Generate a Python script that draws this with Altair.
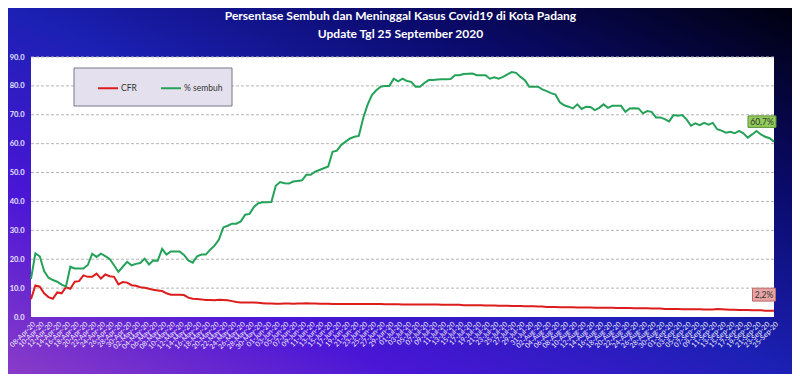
import altair as alt
import pandas as pd
import datetime as dt

# ---------------- data ----------------
start = dt.date(2020, 4, 8)
dates = [(start + dt.timedelta(days=i)).strftime("%d-%b-%y") for i in range(171)]
label_dates = dates[::2]

sembuh = [
    13.2, 22.0, 21.0, 15.9, 13.6, 12.8, 12.2, 11.2, 10.5, 17.4,
    16.8, 16.8, 16.8, 18.0, 21.9, 20.8, 21.9, 21.1, 20.1, 17.9,
    15.6, 17.4, 19.1, 17.9, 18.4, 18.7, 20.2, 18.2, 19.6, 19.5,
    23.6, 21.6, 22.7, 22.7, 22.7, 21.5, 19.6, 18.8, 21.0, 21.6,
    21.6, 23.3, 24.7, 26.8, 31.0, 31.6, 32.3, 32.3, 33.1, 35.4,
    35.7, 38.1, 39.4, 39.7, 39.7, 39.8, 45.4, 46.7, 46.3, 46.2,
    46.9, 47.1, 47.3, 49.2, 49.2, 50.3, 50.9, 51.5, 52.1, 57.2,
    57.6, 59.6, 60.7, 61.8, 62.4, 62.7, 68.8, 73.4, 76.8, 78.5,
    79.7, 80.0, 80.0, 82.5, 81.6, 82.5, 81.7, 81.4, 79.7, 79.7,
    81.0, 82.0, 82.0, 82.2, 82.3, 82.3, 82.4, 83.7, 83.7, 84.1,
    84.2, 84.3, 83.7, 83.7, 83.7, 82.5, 83.0, 82.5, 83.1, 84.0,
    84.8, 84.5, 83.1, 82.0, 79.7, 79.7, 79.7, 78.8, 78.2, 77.5,
    77.0, 74.3, 73.3, 72.8, 72.2, 73.6, 72.0, 72.8, 72.7, 71.6,
    72.4, 73.6, 72.4, 73.1, 73.1, 73.1, 71.0, 72.2, 72.3, 72.2,
    70.5, 71.3, 71.0, 69.1, 69.1, 68.5, 67.7, 69.9, 69.7, 69.9,
    68.4, 66.2, 67.0, 66.4, 67.2, 66.6, 67.2, 65.0, 64.5, 63.8,
    64.1, 63.6, 64.4, 63.6, 62.1, 63.2, 64.4, 63.2, 62.4, 61.9,
    60.7,
]

cfr = [
    6.2, 10.9, 10.5, 8.2, 6.9, 6.3, 8.5, 8.2, 10.3, 9.8,
    12.2, 12.4, 14.4, 13.9, 13.9, 15.0, 13.3, 14.7, 14.1, 13.9,
    11.3, 12.1, 11.9, 11.0, 10.8, 10.3, 10.1, 9.8, 9.4, 9.2,
    9.0, 8.2, 7.7, 7.7, 7.7, 7.6, 6.7, 6.3, 6.2, 6.1,
    5.9, 5.9, 5.8, 6.0, 5.9, 5.8, 5.5, 5.2, 5.0, 5.0,
    5.0, 5.0, 4.9, 4.8, 4.7, 4.7, 4.6, 4.6, 4.7, 4.7,
    4.6, 4.7, 4.7, 4.8, 4.7, 4.7, 4.6, 4.6, 4.6, 4.5,
    4.5, 4.5, 4.5, 4.5, 4.5, 4.5, 4.5, 4.5, 4.5, 4.5,
    4.5, 4.4, 4.4, 4.4, 4.4, 4.3, 4.3, 4.3, 4.3, 4.3,
    4.3, 4.3, 4.3, 4.3, 4.2, 4.2, 4.2, 4.2, 4.2, 4.1,
    4.1, 4.1, 4.1, 4.1, 4.0, 4.0, 4.0, 3.9, 3.9, 3.9,
    3.8, 3.8, 3.8, 3.7, 3.7, 3.7, 3.6, 3.6, 3.5, 3.5,
    3.5, 3.4, 3.4, 3.4, 3.4, 3.3, 3.3, 3.3, 3.3, 3.2,
    3.2, 3.2, 3.2, 3.2, 3.1, 3.1, 3.1, 3.1, 3.0, 3.0,
    3.0, 3.0, 2.9, 2.9, 2.9, 2.8, 2.8, 2.8, 2.8, 2.7,
    2.7, 2.7, 2.7, 2.7, 2.6, 2.6, 2.6, 2.8, 2.7, 2.6,
    2.5, 2.5, 2.4, 2.4, 2.4, 2.3, 2.3, 2.3, 2.2, 2.2,
    2.2,
]

series_names = ["CFR", "% sembuh"]
series_colors = ["#dd1c1c", "#25a259"]
grid_values = [10, 20, 30, 40, 50, 60, 70, 80, 90]
y_ticks = [0, 10, 20, 30, 40, 50, 60, 70, 80, 90]
end_labels = ["2,2%", "60,7%"]

title_lines = ["Persentase Sembuh dan Meninggal Kasus Covid19 di Kota Padang",
               "Update Tgl 25 September 2020"]

# ---------------- tables ----------------
df = pd.DataFrame({
    "date": dates * 2,
    "series": ["CFR"] * len(dates) + ["% sembuh"] * len(dates),
    "value": cfr + sembuh,
})
df_grid = pd.DataFrame({"value": grid_values})
df_one = pd.DataFrame({"a": [0]})
df_end_g = pd.DataFrame({"date": [dates[-1]], "value": [sembuh[-1]], "lab": [end_labels[1]]})
df_end_r = pd.DataFrame({"date": [dates[-1]], "value": [cfr[-1]], "lab": [end_labels[0]]})

W, H = 743, 260
PL, PT, PR, PB = 23, 49, 18, 57
FONT = "Lato"

y_scale = alt.Scale(domain=[0, 90], nice=False, zero=True)
x_scale = alt.Scale(type="point", padding=0, domain=dates)

x_axis = alt.Axis(values=label_dates, labelAngle=-45, labelFontSize=7, labelFont=FONT,
                  labelColor="#f2f0ff", labelPadding=3, ticks=False, domain=False,
                  grid=False, title=None, labelOverlap=False, labelBound=False, zindex=1)
y_axis = alt.Axis(values=y_ticks, tickCount=10, format=".1f", title=None, labelColor="#e6e4ff",
                  labelFontSize=7.5, labelFont=FONT, labelFontWeight="bold", labelPadding=7,
                  labelOverlap=False, labelBound=False, labelFlush=False, ticks=False,
                  domain=False, grid=False, zindex=1)

x_enc = alt.X("date:O", sort=dates, scale=x_scale, axis=x_axis)
y_enc = alt.Y("value:Q", scale=y_scale, axis=y_axis)

gradient = alt.LinearGradient(
    gradient="linear", x1=0, y1=1, x2=1, y2=0,
    stops=[alt.GradientStop(color="#8a3cc8", offset=0),
           alt.GradientStop(color="#4a16d6", offset=0.25),
           alt.GradientStop(color="#1c20b4", offset=0.5),
           alt.GradientStop(color="#0a0a6a", offset=0.75),
           alt.GradientStop(color="#00000e", offset=1)])

bg = alt.Chart(df_one).mark_rect(fill=gradient).encode(
    x=alt.value(-PL), x2=alt.value(W + PR), y=alt.value(-PT), y2=alt.value(H + PB))

plot_bg = alt.Chart(df_one).mark_rect(fill="white").encode(
    x=alt.value(0), x2=alt.value(W), y=alt.value(0), y2=alt.value(H))

grid = alt.Chart(df_grid).mark_rule(color="#b5b5b5", strokeWidth=1, strokeDash=[3, 2]).encode(
    y=y_enc, x=alt.value(0), x2=alt.value(W))

legend_box = alt.Chart(df_one).mark_rect(fill="#e4e0ee", stroke="#77778a", strokeWidth=1).encode(
    x=alt.value(43), x2=alt.value(201), y=alt.value(11), y2=alt.value(49))

lines = alt.Chart(df).mark_line(strokeWidth=2).encode(
    x=x_enc,
    y=y_enc,
    color=alt.Color("series:N", scale=alt.Scale(domain=series_names, range=series_colors),
                    legend=alt.Legend(orient="none", legendX=66, legendY=20, direction="horizontal",
                                      title=None, symbolType="stroke", symbolSize=400,
                                      symbolStrokeWidth=2, labelFontSize=8.5, labelFont=FONT,
                                      labelColor="#333333", columnPadding=20, labelOffset=2,
                                      zindex=1)),
    order=alt.Order("series:N"),
)

box_g = alt.Chart(df_end_g).mark_point(
    shape="M-1,-0.41H1V0.41H-1Z", size=784, filled=True, fill="#92cc5a", stroke="#5e8f38",
    strokeWidth=1, opacity=1, xOffset=-12, yOffset=-20).encode(x=x_enc, y=y_enc)
txt_g = alt.Chart(df_end_g).mark_text(
    fontSize=8.5, font=FONT, color="#333333", xOffset=-12, yOffset=-20).encode(
    x=x_enc, y=y_enc, text="lab:N")

box_r = alt.Chart(df_end_r).mark_point(
    shape="M-1,-0.56H1V0.56H-1Z", size=529, filled=True, fill="#e8a3a3", stroke="#b86a6a",
    strokeWidth=1, opacity=1, xOffset=-10, yOffset=-16).encode(x=x_enc, y=y_enc)
txt_r = alt.Chart(df_end_r).mark_text(
    fontSize=8.5, font=FONT, color="#333333", xOffset=-10, yOffset=-16).encode(
    x=x_enc, y=y_enc, text="lab:N")

chart = alt.layer(bg, plot_bg, grid, legend_box, lines, box_g, txt_g, box_r, txt_r).properties(
    width=W, height=H,
    autosize=alt.AutoSizeParams(type="none"),
    padding={"left": PL, "top": PT, "right": PR, "bottom": PB},
    background="#0a0a6a",
    title=alt.TitleParams(text=title_lines, color="white", fontSize=12, font=FONT,
                          fontWeight="bold", anchor="middle", offset=-33, lineHeight=18, dx=-2,
                          zindex=1),
).configure_view(stroke=None, fill=None)

chart.save("out.html", embed_options={"renderer": "svg", "actions": False})
